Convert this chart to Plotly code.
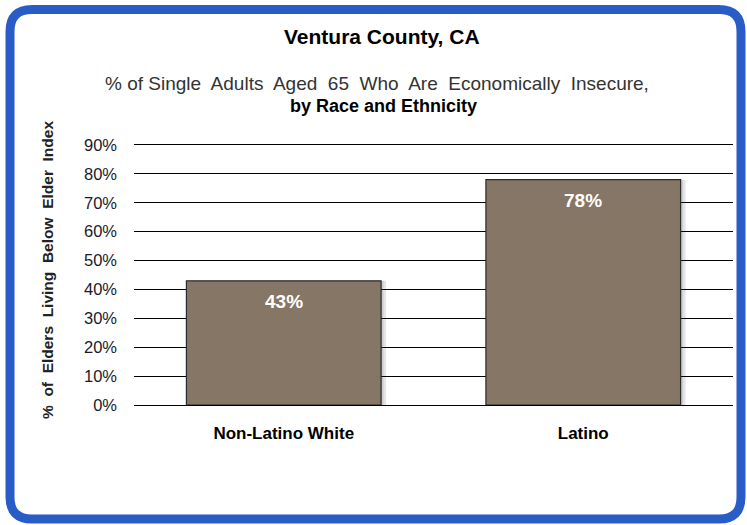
import plotly.graph_objects as go

categories = ["Non-Latino White", "Latino"]
values = [43, 78]
tick_vals = [0, 10, 20, 30, 40, 50, 60, 70, 80, 90]
tick_text = [f"{v}%" for v in tick_vals]

W, H = 747, 525
ML, MR, MT, MB = 134, 14, 145, 120
PW = W - ML - MR
PH = H - MT - MB

def px(x):
    return (x - ML) / PW

def py(y):
    return (H - MB - y) / PH

FONT = "Liberation Sans, Arial, sans-serif"
BW = 0.65
SH = 5 / (PW / len(categories))  # shadow offset in category units

fig = go.Figure()
# soft shadow
for k, a in enumerate([0.10, 0.10]):
    fig.add_trace(go.Bar(
        x=categories, y=values, width=BW, offset=-BW / 2 + SH * (k + 1) / 2,
        marker=dict(color=f"rgba(0,0,0,{a})", line=dict(width=0)),
        hoverinfo="skip",
    ))
fig.add_trace(go.Bar(
    x=categories, y=values, width=BW, offset=-BW / 2,
    marker=dict(color="#857665", line=dict(color="#2b2b2b", width=1.2)),
    hoverinfo="skip",
))

# rounded blue border
x0, x1, y0, y1, r = 10, 741, 9.5, 519, 22
path = (f"M {px(x0+r)},{py(y0)} L {px(x1-r)},{py(y0)} "
        f"Q {px(x1)},{py(y0)} {px(x1)},{py(y0+r)} "
        f"L {px(x1)},{py(y1-r)} Q {px(x1)},{py(y1)} {px(x1-r)},{py(y1)} "
        f"L {px(x0+r)},{py(y1)} Q {px(x0)},{py(y1)} {px(x0)},{py(y1-r)} "
        f"L {px(x0)},{py(y0+r)} Q {px(x0)},{py(y0)} {px(x0+r)},{py(y0)} Z")
shapes = [dict(type="path", path=path, xref="paper", yref="paper",
               line=dict(color="#2a5cc7", width=9), fillcolor="rgba(0,0,0,0)", layer="above")]

annotations = [
    dict(text="<b>Ventura County, CA</b>", x=px(382), y=py(37), xref="paper", yref="paper",
         showarrow=False, font=dict(size=21, color="black", family=FONT), xanchor="center", yanchor="middle"),
    dict(text="% of Single  Adults  Aged  65  Who  Are  Economically  Insecure,", x=px(377), y=py(84),
         xref="paper", yref="paper", showarrow=False,
         font=dict(size=19, color="#333333", family=FONT), xanchor="center", yanchor="middle"),
    dict(text="<b>by Race and Ethnicity</b>", x=px(383), y=py(106), xref="paper", yref="paper",
         showarrow=False, font=dict(size=18, color="black", family=FONT), xanchor="center", yanchor="middle"),
    dict(text="<b>%  of  Elders  Living  Below  Elder  Index</b>", x=px(47), y=py(270), xref="paper", yref="paper",
         showarrow=False, textangle=-90, font=dict(size=15.5, color="#222222", family=FONT),
         xanchor="center", yanchor="middle"),
]
for c, v in zip(categories, values):
    annotations.append(dict(text=f"<b>{v}%</b>", x=c, y=v, xref="x", yref="y", showarrow=False,
                            yshift=-21, yanchor="middle", xanchor="center",
                            font=dict(size=19, color="white", family=FONT)))

fig.update_layout(
    width=W, height=H,
    margin=dict(l=ML, r=MR, t=MT, b=MB, autoexpand=False),
    paper_bgcolor="white", plot_bgcolor="white",
    showlegend=False, barmode="overlay",
    shapes=shapes, annotations=annotations,
    xaxis=dict(showgrid=False, showline=True, mirror=True, linecolor="black", linewidth=1.3,
               ticks="", zeroline=False,
               tickfont=dict(size=17, color="black", family=FONT),
               tickvals=categories, ticktext=[f"<b>{c}</b>" for c in categories]),
    yaxis=dict(range=[0, 90], tickvals=tick_vals, ticktext=tick_text, showgrid=True,
               gridcolor="black", gridwidth=1.3, zeroline=False, showline=False, ticks="",
               ticklabelstandoff=16,
               tickfont=dict(size=16.5, color="#1a1a2a", family=FONT)),
)
fig.update_xaxes(ticklabelstandoff=12)

fig.write_html("out.html", config={"displayModeBar": False},
               post_script="document.body.style.margin='0';document.body.style.overflow='hidden';")
